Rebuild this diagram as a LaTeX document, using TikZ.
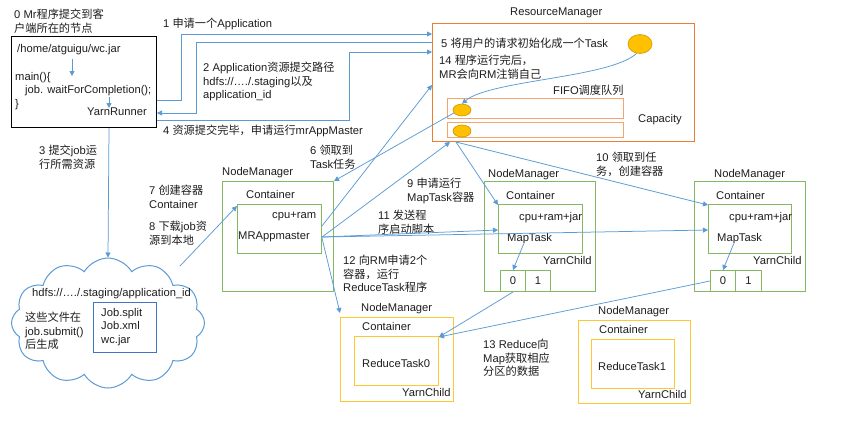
\documentclass[tikz,border=0pt]{standalone}
\usepackage{fontspec}
\setmainfont{Liberation Sans}
\newfontfamily\cjk{Noto Sans CJK SC}
\newcommand\zh[1]{{\cjk #1}}
\usetikzlibrary{arrows.meta,shapes.geometric,shapes.symbols,calc}
\definecolor{lblue}{HTML}{5B9BD5}
\definecolor{dblue}{HTML}{4472C4}
\definecolor{rmor}{HTML}{ED7D31}
\definecolor{qor}{HTML}{F4A46E}
\definecolor{yel}{HTML}{FFC000}
\definecolor{ydark}{HTML}{C89A00}
\definecolor{nmg}{HTML}{84B962}
\definecolor{yb}{HTML}{FFC832}
\definecolor{txt}{HTML}{1E1E1E}
\begin{document}
\begin{tikzpicture}[x=1pt,y=-1pt,
  every node/.style={font=\fontsize{11.2}{13.5}\selectfont, text=txt},
  lbl/.style={anchor=north west, inner sep=0, align=left},
  boxs/.style={anchor=north west, inner sep=0, line width=1pt},
  nmbox/.style={boxs, draw=nmg},
  ybox/.style={boxs, draw=yb},
  qbox/.style={boxs, draw=qor},
  oval/.style={ellipse, draw=ydark, fill=yel, inner sep=0, line width=0.6pt},
  arr/.style={draw=lblue, line width=0.75pt, -{Triangle[length=5pt,width=5pt]}}]
\fill[white] (0,0) rectangle (863,434);
\useasboundingbox (0,0) rectangle (863,434);

% client
\node[lbl] (t0) at (14,9) {0 Mr\zh{程序提交到客}\\\zh{户端所在的节点}};
\node[boxs, draw=black, minimum width=145pt, minimum height=91pt] (client) at (11,36) {};
\node[lbl] (home) at (17,44) {/home/atguigu/wc.jar};
\node[lbl] (main) at (15,72) {main()\{\\\hspace*{10pt}job. waitForCompletion();\\\}};
\node[lbl] (yr) at (87,108) {YarnRunner};
\draw[arr] ($(client.north west)+(61,23)$) -- ++(0,17);
\draw[arr] ($(client.north west)+(98,61)$) -- ++(0,11);

% ResourceManager
\node[lbl] (rmlbl) at (510,8) {ResourceManager};
\node[boxs, draw=rmor, minimum width=262pt, minimum height=118pt] (rm) at (432,23) {};
\node[lbl] (t5) at (441,38) {5 \zh{将用户的请求初始化成一个}Task};
\node[lbl] (t14) at (439,55) {14 \zh{程序运行完后，}\\MR\zh{会向}RM\zh{注销自己}};
\node[oval, minimum width=24pt, minimum height=19pt] (task) at (640,44) {};
\node[lbl] (fifo) at (553,85) {FIFO\zh{调度队列}};
\node[qbox, minimum width=176pt, minimum height=20pt] (q1) at (447,98) {};
\node[qbox, minimum width=176pt, minimum height=15pt] (q2) at (447,122) {};
\node[oval, minimum width=18pt, minimum height=12pt] (q1e) at (462,110) {};
\node[oval, minimum width=18pt, minimum height=12pt] (q2e) at (462,131) {};
\node[lbl] (cap) at (638,114) {Capacity};
\draw[arr] (task.250) .. controls (610,78) and (490,80) .. (q1e.north);

% client <-> RM
\draw[arr] ($(client.north east)+(0,64)$) -- ++(24,0) |- ($(rm.north west)+(0,11)$);
\draw[arr] ($(rm.north west)+(0,19)$) -- ++(-236,0) |- ($(client.north east)+(0,77)$);
\draw[arr] ($(client.north east)+(0,84)$) -- ++(192,0) |- ($(rm.north west)+(0,29)$);
\node[lbl] (t1) at (163,18) {1 \zh{申请一个}Application};
\node[lbl] (t2) at (203,62) {2 Application\zh{资源提交路径}\\hdfs://…./.staging\zh{以及}\\application\_id};
\node[lbl] (t4) at (163,125) {4 \zh{资源提交完毕，申请运行}mrAppMaster};

% cloud
\node[cloud, draw=lblue, line width=1pt, cloud puffs=12, cloud puff arc=120, cloud ignores aspect, minimum width=193pt, minimum height=130pt, inner sep=0] (cloud) at (108,323) {};
\node[lbl] (hdfs) at (32,288) {hdfs://…./.staging/application\_id};
\node[lbl] (gen) at (25,312) {\zh{这些文件在}\\job.submit()\\\zh{后生成}};
\node[boxs, draw=dblue, minimum width=63pt, minimum height=50pt] (files) at (93,302) {};
\node[lbl] (flist) at (101,308) {Job.split\\Job.xml\\wc.jar};
\node[lbl] (t3) at (39,145) {3 \zh{提交}job\zh{运}\\\zh{行所需资源}};
\draw[arr] ($(client.south west)+(98,0)$) -- (cloud.north);

% NodeManager with MRAppmaster
\node[lbl] (nm1l) at (222,167) {NodeManager};
\node[nmbox, minimum width=111pt, minimum height=110pt] (nm1) at (222,181) {};
\node[lbl] (c1l) at (246,190) {Container};
\node[nmbox, minimum width=84pt, minimum height=49pt] (c1) at (237,204) {};
\node[lbl] (cr1) at (272,212) {cpu+ram};
\node[lbl] (mra) at (238,232) {MRAppmaster};
\node[lbl] (t6) at (310,145) {6 \zh{领取到}\\Task\zh{任务}};
\node[lbl] (t7) at (149,185) {7 \zh{创建容器}\\Container};
\node[lbl] (t8) at (149,221) {8 \zh{下载}job\zh{资}\\\zh{源到本地}};
\draw[arr] ($(cloud.center)+(72,-57)$) -- ($(c1.north west)+(0,2)$);

% MapTask NodeManager 1
\node[lbl] (nm2l) at (488,169) {NodeManager};
\node[nmbox, minimum width=111pt, minimum height=110pt] (nm2) at (484,181) {};
\node[lbl] (mc1l) at (506,191) {Container};
\node[nmbox, minimum width=84pt, minimum height=49pt] (mc1) at (498,204) {};
\node[lbl] (cr2) at (519,212) {cpu+ram+jar};
\node[lbl] (mt1) at (507,233) {MapTask};
\node[lbl] (yc1) at (543,256) {YarnChild};
\node[nmbox, minimum width=25pt, minimum height=21pt] (m1b0) at (500,270) {0};
\node[nmbox, minimum width=25pt, minimum height=21pt] (m1b1) at (525,270) {1};
\draw[arr] ([xshift=-6pt]mt1.south) -- (m1b0.north);

% MapTask NodeManager 2
\node[lbl] (nm3l) at (714,169) {NodeManager};
\node[nmbox, minimum width=111pt, minimum height=110pt] (nm3) at (694,181) {};
\node[lbl] (mc2l) at (716,191) {Container};
\node[nmbox, minimum width=83pt, minimum height=49pt] (mc2) at (708,204) {};
\node[lbl] (cr3) at (729,212) {cpu+ram+jar};
\node[lbl] (mt2) at (717,233) {MapTask};
\node[lbl] (yc2) at (753,256) {YarnChild};
\node[nmbox, minimum width=25pt, minimum height=21pt] (m2b0) at (710,270) {0};
\node[nmbox, minimum width=26pt, minimum height=21pt] (m2b1) at (735,270) {1};
\draw[arr] ([xshift=-6pt]mt2.south) -- (m2b0.north);

% Reduce NodeManagers
\node[lbl] (rn0l) at (361,303) {NodeManager};
\node[ybox, minimum width=113pt, minimum height=84pt] (rn0) at (340,317) {};
\node[lbl] (rc0l) at (362,322) {Container};
\node[ybox, minimum width=84pt, minimum height=49pt] (rc0) at (354,336) {};
\node[lbl] (rt0) at (362,359) {ReduceTask0};
\node[lbl] (yc3) at (402,388) {YarnChild};

\node[lbl] (rn1l) at (598,306) {NodeManager};
\node[ybox, minimum width=112pt, minimum height=83pt] (rn1) at (578,320) {};
\node[lbl] (rc1l) at (599,325) {Container};
\node[ybox, minimum width=83pt, minimum height=49pt] (rc1) at (591,339) {};
\node[lbl] (rt1) at (598,362) {ReduceTask1};
\node[lbl] (yc4) at (638,390) {YarnChild};

% step labels
\node[lbl] (t9) at (407,178) {9 \zh{申请运行}\\MapTask\zh{容器}};
\node[lbl] (t11) at (378,210) {11 \zh{发送程}\\\zh{序启动脚本}};
\node[lbl] (t12) at (343,255) {12 \zh{向}RM\zh{申请}2\zh{个}\\\zh{容器，运行}\\ReduceTask\zh{程序}};
\node[lbl] (t10) at (596,152) {10 \zh{领取到任}\\\zh{务，创建容器}};
\node[lbl] (t13) at (483,339) {13 Reduce\zh{向}\\Map\zh{获取相应}\\\zh{分区的数据}};

% connectors
\draw[arr] (q1e.200) -- (nm1.north east);
\draw[arr] ($(c1.north east)+(0,33)$) -- ($(rm.south west)+(18,0)$);
\draw[arr] ($(c1.north east)+(0,22)$) -- ($(rm.north west)+(0,62)$);
\draw[arr] ($(c1.north east)+(0,33)$) -- ($(mc1.north west)+(0,26)$);
\draw[arr] ($(c1.north east)+(0,33)$) -- ($(mc2.north west)+(0,26)$);
\draw[arr] ($(c1.north east)+(0,34)$) -- ($(rn0.north west)+(0,-4)$);
\draw[arr] ($(rm.south west)+(24,0)$) -- ($(mc1.north west)+(0,1)$);
\draw[arr] ($(rm.south west)+(24,0)$) -- ($(mc2.north west)+(0,1)$);
\draw[arr] (m1b0.south) -- ($(rc0.north east)+(0,1)$);
\draw[arr] (m2b0.west) -- ($(rc0.north east)+(0,1)$);
\end{tikzpicture}
\end{document}
